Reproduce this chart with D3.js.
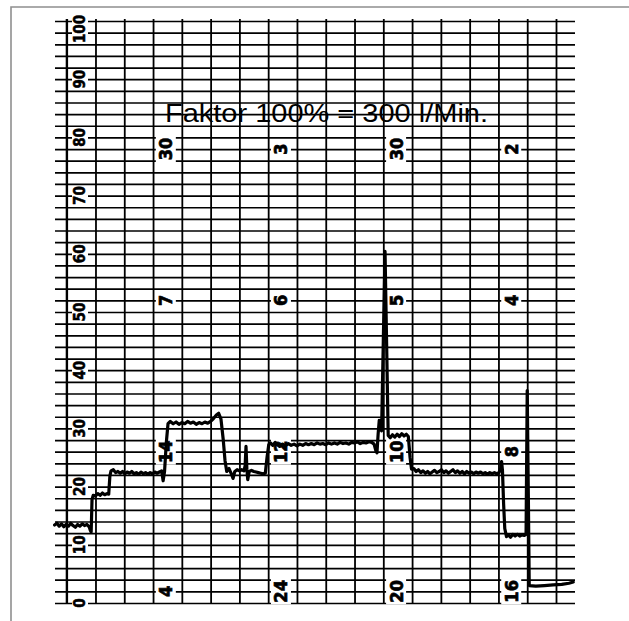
<!DOCTYPE html>
<html><head><meta charset="utf-8">
<script src="https://cdn.jsdelivr.net/npm/d3@7"></script>
<style>body{margin:0;background:#fff}svg{display:block}</style>
</head><body>
<svg id="c" width="629" height="621"></svg>
<script>
// ---- data ----
const axisTicks = [0,10,20,30,40,50,60,70,80,90,100];
const gridValues = d3.range(0, 101, 2);
const gridColumns = d3.range(0, 18);
const markColumns = [4, 8, 12, 16];
const markRows = [78, 52, 26, 2];
const markRowLabels0 = ["30","3","30","2"];
const markRowLabels1 = ["7","6","5","4"];
const markRowLabels2 = ["14","12","10","8"];
const markRowLabels3 = ["4","24","20","16"];
const titleText = "Faktor 100% = 300 l/Min.";
const traceT = [
 -0.42,-0.34,-0.26,-0.18,-0.1,-0.02,0.06,0.14,0.22,0.3,0.38,0.46,0.54,0.62,0.7,0.78,0.82,0.85,0.88,0.92,
 1.0,1.08,1.16,1.24,1.32,1.4,1.46,1.5,1.54,
 1.62,1.7,1.78,1.86,1.94,2.02,2.1,2.18,2.26,2.34,2.42,2.5,2.58,2.66,2.74,2.82,2.9,2.98,3.06,3.14,3.22,3.3,3.35,3.4,3.46,3.52,
 3.6,3.7,3.8,3.9,4.0,4.1,4.2,4.3,4.4,4.5,4.6,4.7,4.8,4.9,5.0,5.1,5.2,5.28,5.36,5.44,5.5,5.56,
 5.64,5.72,5.78,5.84,5.92,6.0,6.08,6.16,6.2,6.23,6.26,6.29,6.34,6.42,6.5,6.58,6.66,6.74,6.82,6.9,6.96,7.02,7.08,
 7.16,7.24,7.32,7.4,7.5,7.6,7.7,7.8,7.9,8.0,8.1,8.2,8.3,8.4,8.5,8.6,8.7,8.8,8.9,9.0,9.1,9.2,9.3,9.4,9.5,9.6,9.7,9.8,9.9,10.0,10.1,10.2,10.3,10.4,10.5,10.6,10.68,10.74,10.78,10.82,10.86,10.9,10.94,11.0,11.06,11.11,11.17,
 11.24,11.32,11.4,11.48,11.56,11.64,11.72,11.8,11.87,11.93,11.98,
 12.06,12.14,12.22,12.3,12.38,12.46,12.54,12.62,12.7,12.78,12.86,12.94,13.02,13.1,13.18,13.26,13.34,13.42,13.5,13.58,13.66,13.74,13.82,13.9,13.98,14.06,14.14,14.22,14.3,14.38,14.46,14.54,14.62,14.7,14.78,14.86,14.94,15.02,15.08,15.11,15.14,15.18,15.22,15.28,
 15.35,15.42,15.5,15.58,15.66,15.74,15.82,15.9,15.96,16.0,16.04,16.07,
 16.3,16.6,16.9,17.2,17.45,17.6
];
const traceV = [
 13.4,13.7,13.2,13.6,13.1,13.5,13.2,13.7,13.3,13.0,13.5,13.2,13.6,13.3,13.5,13.1,12.5,12.2,17.8,18.5,
 18.4,18.8,18.5,18.9,18.6,18.8,18.7,21.8,22.7,
 22.9,22.4,22.6,22.3,22.6,22.2,22.5,22.3,22.6,22.2,22.4,22.1,22.5,22.2,22.4,22.1,22.4,22.2,22.5,22.3,22.5,22.7,21.0,22.6,27.5,30.8,
 31.2,30.8,31.1,30.7,31.0,30.8,31.2,30.9,31.1,30.7,31.0,30.8,31.1,30.9,31.2,31.7,32.3,32.6,31.6,28.0,24.5,22.6,
 23.1,22.2,21.4,22.6,22.9,22.7,22.9,22.7,23.6,26.9,23.0,21.2,22.6,22.8,22.6,22.5,22.4,22.3,22.2,22.3,25.0,27.2,27.5,
 27.1,27.6,27.2,26.9,27.3,27.0,27.4,27.1,27.3,27.0,27.3,27.1,27.4,27.2,27.4,27.2,27.5,27.3,27.4,27.2,27.5,27.3,27.5,27.3,27.6,27.4,27.5,27.3,27.6,27.5,27.7,27.4,27.6,27.5,27.7,27.6,27.3,26.2,25.8,29.0,31.4,30.0,29.6,45.0,60.4,46.0,28.8,
 28.4,28.9,28.5,29.0,28.6,29.1,28.7,29.0,28.6,25.0,23.0,
 23.1,22.6,22.9,22.4,22.7,22.3,22.6,22.2,22.5,22.8,22.4,22.6,22.9,22.4,22.7,22.3,22.6,22.9,22.4,22.7,22.3,22.6,22.2,22.6,22.3,22.5,22.2,22.5,22.3,22.5,22.2,22.4,22.1,22.4,22.2,22.4,22.2,22.4,23.2,24.3,22.8,17.0,12.8,11.4,
 11.7,11.3,11.8,11.5,11.8,11.5,11.7,11.6,11.8,36.5,18.0,3.0,
 2.9,3.0,3.1,3.2,3.4,3.6
];

// ---- drawing ----
const svg = d3.select("#c");
const x = d3.scaleLinear().domain([0, 17]).range([66.7, 556]);
const y = d3.scaleLinear().domain([0, 100]).range([603, 21]);
const xRight = 575, xLeft = 55;
const labelFont = "'Liberation Sans Narrow','DejaVu Sans Condensed','Arial Narrow',sans-serif";

// paper frame
svg.append("path").attr("d", `M11,621 V7 H629`).attr("fill","none")
  .attr("stroke","#8f8f8f").attr("stroke-width",1.6);

// horizontal grid via axis
const gH = svg.append("g").attr("transform",`translate(${xRight},0)`)
  .call(d3.axisLeft(y).tickValues(gridValues).tickSize(xRight - xLeft).tickFormat(""));
gH.select(".domain").remove();
gH.selectAll("line").attr("stroke","#000").attr("stroke-width",1.7);

// vertical grid via axis
const gV = svg.append("g").attr("transform",`translate(0,${y(0)+1})`)
  .call(d3.axisBottom(x).tickValues(gridColumns).tickSize(-(y(0) - y(100) + 3)).tickFormat(""));
gV.select(".domain").remove();
gV.selectAll("line").attr("stroke","#000").attr("stroke-width",1.8);

// value axis labels
const gA = svg.append("g").attr("transform","translate(80,0)")
  .call(d3.axisRight(y).tickValues(axisTicks).tickSize(0).tickPadding(0));
gA.select(".domain").remove();
gA.selectAll(".tick").attr("transform", d => `translate(0,${Math.max(y(d), 29)})`);
gA.selectAll(".tick").insert("rect","text")
  .attr("x",-8).attr("width",16)
  .attr("y", d => -(String(d).length*7+4)/2).attr("height", d => String(d).length*7+4)
  .attr("fill","#fff");
gA.selectAll(".tick text")
  .attr("x",0).attr("dy",null).attr("y",0)
  .attr("transform","rotate(-90)")
  .attr("text-anchor","middle").attr("dominant-baseline","central")
  .attr("fill","#000").attr("stroke","#000").attr("stroke-width",0.5)
  .style("font-family",labelFont)
  .style("font-weight","bold").style("font-size","15px");

// time mark labels on the chart
const rowsLabels = [markRowLabels0, markRowLabels1, markRowLabels2, markRowLabels3];
markRows.forEach((rv, ri) => {
  markColumns.forEach((c, ci) => {
    const t = rowsLabels[ri][ci];
    const cx = x(c) - 16, cy = y(rv);
    const g = svg.append("g").attr("transform",`translate(${cx},${cy})`);
    const h = t.length*10 + 6;
    g.append("rect").attr("x",-10).attr("width",20).attr("y",-h/2).attr("height",h).attr("fill","#fff");
    g.append("text").text(t).attr("transform","rotate(-90)")
      .attr("text-anchor","middle").attr("dominant-baseline","central")
      .attr("stroke","#000").attr("stroke-width",0.7)
      .style("font-family",labelFont).style("font-weight","bold").style("font-size","18px");
  });
});

// value axis line
svg.append("line").attr("x1",x(0)).attr("x2",x(0)).attr("y1",y(100)-2).attr("y2",y(0)+1)
  .attr("stroke","#000").attr("stroke-width",2);

// title
svg.append("text").text(titleText).attr("x",165).attr("y",122)
  .attr("textLength",323).attr("lengthAdjust","spacingAndGlyphs")
  .style("font-family","'Liberation Sans',Arial,sans-serif").style("font-size","26px").attr("fill","#000");

// recorder trace
const pts = traceT.map((t,i) => [t, traceV[i]]);
svg.append("path").datum(pts)
  .attr("d", d3.line().x(d => x(d[0])).y(d => y(d[1])))
  .attr("fill","none").attr("stroke","#000").attr("stroke-width",3.2)
  .attr("stroke-linejoin","round").attr("stroke-linecap","round");
</script>
</body></html>
